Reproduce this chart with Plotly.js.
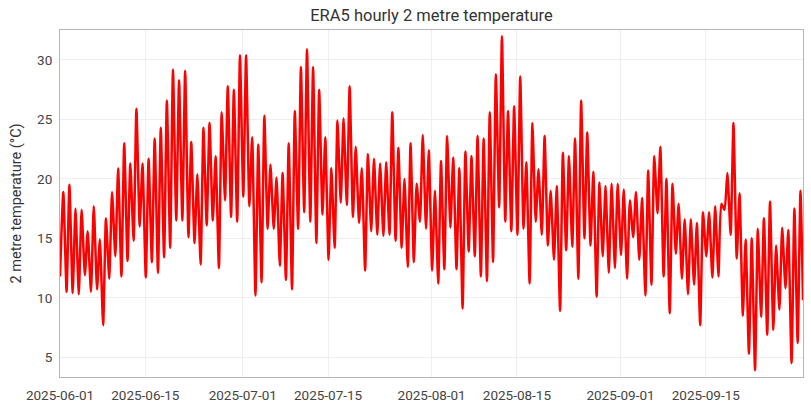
<!DOCTYPE html>
<html>
<head>
<meta charset="utf-8">
<script src="https://cdn.plot.ly/plotly-3.0.1.min.js"></script>
<style>
  html, body { margin: 0; padding: 0; background: #ffffff; }
  #chart { width: 811px; height: 411px; }
</style>
</head>
<body>
<div id="chart"></div>
<script>
// Season covered: 2025-06-01 00:00 to 2025-09-30 23:00 (UTC)
const startDate = '2025-06-01';
const endTime = '2025-09-30 23:00';

// Night-time low (early hours) and afternoon high of each day, °C
const dailyLow = [
  11.8, 10.5, 10.4, 10.3, 11.9, 10.5, 10.7, 7.7, 11.6, 13.5,
  11.8, 13.1, 14.8, 16.0, 11.7, 13.0, 12.1, 13.4, 14.2, 16.5,
  16.5, 15.1, 14.6, 12.8, 16.1, 16.5, 12.5, 18.2, 16.8, 16.4,
  18.5, 17.7, 10.2, 11.3, 15.8, 15.8, 12.7, 11.5, 10.7, 15.8,
  17.2, 16.4, 14.6, 17.0, 13.2, 14.2, 18.0, 17.8, 16.8, 16.3,
  12.3, 15.6, 15.3, 15.2, 15.3, 14.8, 14.2, 12.6, 13.0, 16.4,
  15.8, 12.3, 11.2, 12.4, 15.9, 12.4, 9.1, 13.9, 13.5, 11.8,
  11.4, 13.0, 17.6, 16.4, 15.6, 15.3, 15.8, 11.2, 16.4, 15.3,
  14.4, 13.2, 8.9, 14.0, 14.3, 11.6, 15.0, 14.4, 10.1, 13.5,
  12.1, 12.5, 13.6, 11.6, 15.1, 13.2, 10.2, 11.1, 17.1, 11.8,
  8.7, 13.7, 11.6, 10.3, 11.1, 7.7, 13.5, 11.7, 11.8, 17.4,
  15.3, 13.3, 8.5, 5.3, 3.9, 8.4, 6.9, 7.3, 9.0, 10.8,
  4.5, 6.2
];
const dailyHigh = [
  18.9, 19.5, 17.5, 17.4, 15.6, 17.7, 14.9, 16.7, 18.9, 20.9,
  23.0, 21.3, 25.9, 21.3, 21.7, 23.4, 24.3, 26.6, 29.2, 28.3,
  29.1, 23.1, 20.4, 24.3, 24.7, 21.9, 25.6, 27.8, 27.5, 30.4,
  30.4, 23.5, 22.9, 25.3, 21.2, 20.1, 20.5, 23.0, 25.7, 29.4,
  30.9, 29.4, 27.5, 23.5, 20.9, 24.9, 25.1, 27.8, 22.7, 20.9,
  22.1, 21.7, 21.3, 21.4, 25.6, 22.6, 20.0, 23.0, 19.6, 23.7,
  22.4, 19.0, 21.5, 23.6, 21.8, 20.9, 22.3, 21.9, 23.6, 23.4,
  25.6, 28.8, 32.0, 25.7, 26.1, 28.6, 21.4, 24.7, 20.8, 23.6,
  19.0, 19.4, 22.2, 21.9, 23.4, 26.6, 23.9, 20.6, 19.7, 19.4,
  19.6, 19.6, 19.1, 18.2, 18.9, 18.4, 20.7, 21.9, 22.7, 20.0,
  19.6, 17.9, 16.6, 16.6, 16.3, 17.2, 17.2, 17.7, 17.9, 20.5,
  24.7, 18.8, 14.9, 15.0, 15.8, 16.7, 18.1, 14.4, 15.9, 15.7,
  17.5, 19.0
];
const finalValue = 9.8; // last hour of the record

const tickDates = [
  '2025-06-01', '2025-06-15', '2025-07-01', '2025-07-15',
  '2025-08-01', '2025-08-15', '2025-09-01', '2025-09-15'
];
const yTicks = [5, 10, 15, 20, 25, 30];

// Calendar days of the record
function dayString(i) {
  const d = new Date(startDate + 'T00:00:00Z');
  d.setUTCDate(d.getUTCDate() + i);
  return d.toISOString().slice(0, 10);
}

const times = [];
const temps = [];
for (let i = 0; i < dailyLow.length; i++) {
  const day = dayString(i);
  times.push(day + (i === 0 ? ' 00:00' : ' 02:00'));
  temps.push(dailyLow[i]);
  times.push(day + ' 13:00');
  temps.push(dailyHigh[i]);
}
times.push(endTime);
temps.push(finalValue);

const trace = {
  type: 'scatter',
  mode: 'lines',
  x: times,
  y: temps,
  line: { color: '#ff0000', width: 2.5, shape: 'spline', smoothing: 0.5 },
  hoverinfo: 'x+y'
};

const layout = {
  width: 811,
  height: 411,
  margin: { l: 60, r: 8, t: 30, b: 34 },
  paper_bgcolor: '#ffffff',
  plot_bgcolor: '#ffffff',
  font: { family: 'Roboto, "Noto Sans", sans-serif', size: 13.5, color: '#444444' },
  showlegend: false,
  title: {
    text: 'ERA5 hourly 2 metre temperature',
    font: { size: 16.5, color: '#333333' },
    xref: 'paper', x: 0.5, xanchor: 'center',
    yref: 'container', y: 0.962, yanchor: 'middle'
  },
  xaxis: {
    type: 'date',
    range: [startDate + ' 00:00', endTime],
    tickmode: 'array',
    tickvals: tickDates,
    ticktext: tickDates,
    showline: true, mirror: true, linecolor: '#b5b5b5', linewidth: 1,
    showgrid: true, gridcolor: '#efefef', gridwidth: 1,
    zeroline: false, ticks: '',
    ticklabelstandoff: 6,
    tickfont: { size: 13.5, color: '#444444' }
  },
  yaxis: {
    range: [3.34, 32.52],
    tickmode: 'array',
    tickvals: yTicks,
    showline: true, mirror: true, linecolor: '#b5b5b5', linewidth: 1,
    showgrid: true, gridcolor: '#efefef', gridwidth: 1,
    zeroline: false, ticks: '',
    ticklabelstandoff: 4,
    tickfont: { size: 13.5, color: '#444444' },
    title: { text: '2 metre temperature (°C)', font: { size: 14.5, color: '#333333' } }
  }
};

Plotly.newPlot('chart', [trace], layout, { displayModeBar: false, staticPlot: true });
</script>
</body>
</html>
